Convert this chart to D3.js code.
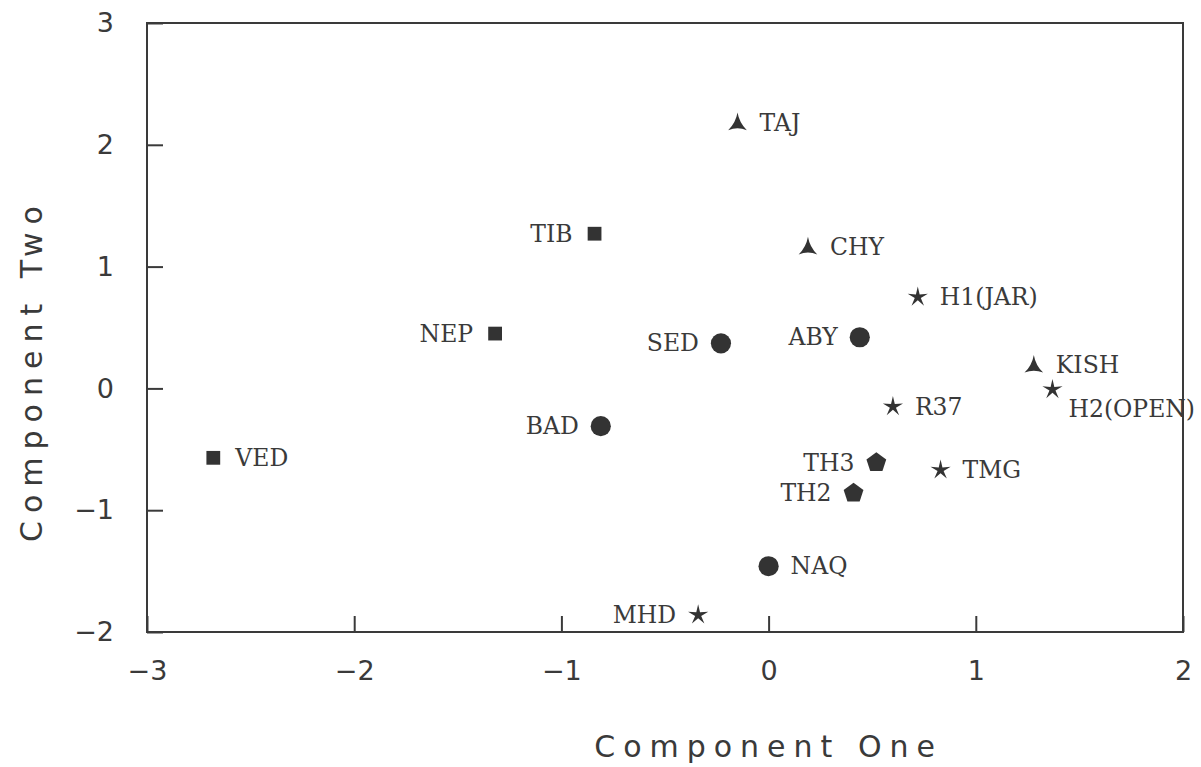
<!DOCTYPE html>
<html>
<head>
<meta charset="utf-8">
<script src="https://cdn.jsdelivr.net/npm/d3@7"></script>
<style>
  html, body { margin: 0; padding: 0; background: #fff; }
  svg { display: block; }
</style>
</head>
<body>
<svg id="chart" width="1201" height="767"></svg>
<script>
// ---- data ----
const names   = ["TAJ","TIB","CHY","H1(JAR)","NEP","SED","ABY","KISH","H2(OPEN)","R37","BAD","VED","TH3","TMG","TH2","NAQ","MHD"];
const compOne = [-0.15,-0.84, 0.19, 0.72,-1.32,-0.23, 0.44, 1.28, 1.37, 0.60,-0.81,-2.68, 0.52, 0.83, 0.41, 0.00,-0.34];
const compTwo = [ 2.18, 1.27, 1.16, 0.75, 0.45, 0.37, 0.42, 0.19,-0.01,-0.15,-0.31,-0.57,-0.61,-0.67,-0.86,-1.46,-1.86];
const groups  = ["tri","sq","tri","star","sq","circ","circ","tri","star","star","circ","sq","pent","star","pent","circ","star"];
const labelSide = ["R","L","R","R","L","L","L","R","RB","R","L","R","L","R","L","R","L"];
const xTicks = [-3,-2,-1,0,1,2];
const yTicks = [-2,-1,0,1,2,3];
const xTitle = "Component One";
const yTitle = "Component Two";

// ---- layout ----
const svg = d3.select("#chart");
const ink = "#3a3a3a";
const x = d3.scaleLinear().domain([-3, 2]).range([147, 1183]);
const y = d3.scaleLinear().domain([-2, 3]).range([632, 23]);

// custom symbols
const concaveTri = {
  draw(ctx, size) {
    const r = Math.sqrt(size) * 0.62;
    const pts = [[0, -r * 1.05], [r * 0.95, r * 0.75], [-r * 0.95, r * 0.75]];
    ctx.moveTo(pts[0][0], pts[0][1]);
    ctx.quadraticCurveTo(r * 0.18, 0, pts[1][0], pts[1][1]);
    ctx.quadraticCurveTo(0, r * 0.35, pts[2][0], pts[2][1]);
    ctx.quadraticCurveTo(-r * 0.18, 0, pts[0][0], pts[0][1]);
    ctx.closePath();
  }
};
const pentagon = {
  draw(ctx, size) {
    const r = Math.sqrt(size) * 0.6;
    for (let i = 0; i < 5; i++) {
      const a = -Math.PI / 2 + i * 2 * Math.PI / 5;
      const px = r * Math.cos(a), py = r * Math.sin(a);
      if (i === 0) ctx.moveTo(px, py); else ctx.lineTo(px, py);
    }
    ctx.closePath();
  }
};
const thinStar = {
  draw(ctx, size) {
    const R = Math.sqrt(size) * 0.75, r = R * 0.3;
    for (let i = 0; i < 10; i++) {
      const a = -Math.PI / 2 + i * Math.PI / 5;
      const rr = i % 2 === 0 ? R : r;
      const px = rr * Math.cos(a), py = rr * Math.sin(a);
      if (i === 0) ctx.moveTo(px, py); else ctx.lineTo(px, py);
    }
    ctx.closePath();
  }
};
const symType = { tri: concaveTri, sq: d3.symbolSquare, circ: d3.symbolCircle, star: thinStar, pent: pentagon };
const symSize = { tri: 250, sq: 190, circ: 320, star: 200, pent: 300 };

// axes
const gx = svg.append("g").attr("transform", `translate(0,${y.range()[0]})`)
  .call(d3.axisBottom(x).tickValues(xTicks).tickFormat(d3.format("d")).tickSizeInner(-16).tickSizeOuter(0).tickPadding(29));
const gy = svg.append("g").attr("transform", `translate(${x.range()[0]},0)`)
  .call(d3.axisLeft(y).tickValues(yTicks).tickFormat(d3.format("d")).tickSizeInner(-16).tickSizeOuter(0).tickPadding(33));
[gx, gy].forEach(g => {
  g.select(".domain").remove();
  g.selectAll(".tick line").attr("stroke", ink).attr("stroke-width", 2);
  g.selectAll(".tick text").attr("fill", ink).attr("font-family", "DejaVu Sans").attr("font-size", 27);
});

// frame
svg.append("rect")
  .attr("x", x.range()[0]).attr("y", y.range()[1])
  .attr("width", x.range()[1] - x.range()[0]).attr("height", y.range()[0] - y.range()[1])
  .attr("fill", "none").attr("stroke", ink).attr("stroke-width", 2);

// axis titles
svg.append("text")
  .attr("x", x(0)).attr("y", 757)
  .attr("text-anchor", "middle").attr("fill", ink)
  .attr("font-family", "DejaVu Sans").attr("font-size", 30).attr("letter-spacing", 8)
  .text(xTitle);
svg.append("text")
  .attr("transform", `translate(42,370) rotate(-90)`)
  .attr("text-anchor", "middle").attr("fill", ink)
  .attr("font-family", "DejaVu Sans").attr("font-size", 30).attr("letter-spacing", 8)
  .text(yTitle);

// points
const data = names.map((n, i) => ({ name: n, x: compOne[i], y: compTwo[i], g: groups[i], side: labelSide[i] }));
const pts = svg.append("g").selectAll("g").data(data).join("g")
  .attr("transform", d => `translate(${x(d.x)},${y(d.y)})`);
pts.append("path")
  .attr("d", d => d3.symbol().type(symType[d.g]).size(symSize[d.g])())
  .attr("fill", "#333");
pts.append("text")
  .attr("font-family", "DejaVu Serif").attr("font-size", 23.5).attr("fill", ink)
  .attr("text-anchor", d => d.side === "L" ? "end" : "start")
  .attr("x", d => d.side === "L" ? -22 : (d.side === "RB" ? 16 : 22))
  .attr("y", d => d.side === "RB" ? 27 : 8)
  .text(d => d.name);
</script>
</body>
</html>
